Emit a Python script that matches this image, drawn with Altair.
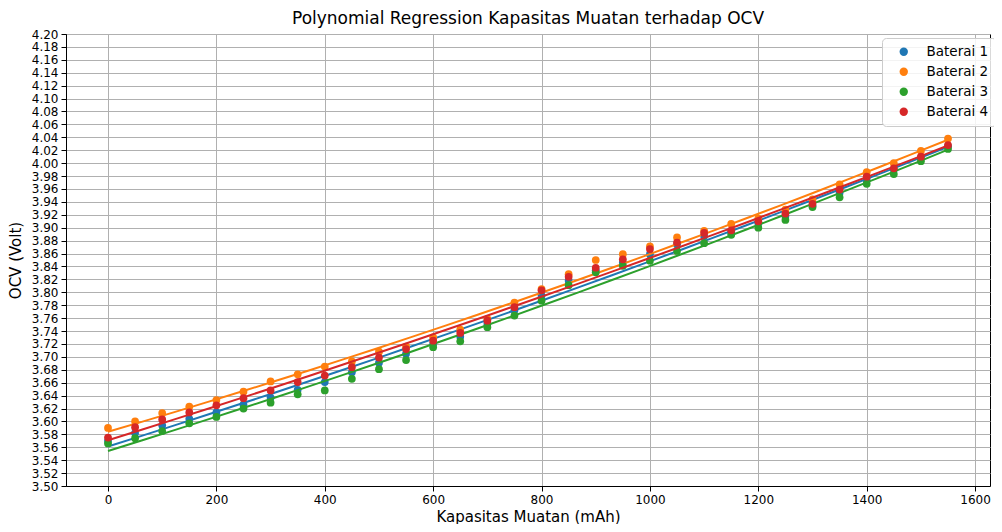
import altair as alt
import pandas as pd

kapasitas = [0, 50, 100, 150, 200, 250, 300, 350, 400, 450, 500, 550, 600, 650, 700, 750,
             800, 850, 900, 950, 1000, 1050, 1100, 1150, 1200, 1250, 1300, 1350, 1400, 1450, 1500, 1550]

baterai_1 = [3.570, 3.582, 3.594, 3.604, 3.614, 3.626, 3.637, 3.649, 3.661, 3.676, 3.691, 3.705,
             3.720, 3.731, 3.751, 3.772, 3.795, 3.818, 3.834, 3.846, 3.859, 3.874, 3.887, 3.893,
             3.907, 3.918, 3.934, 3.954, 3.974, 3.990, 4.008, 4.026]
baterai_2 = [3.590, 3.600, 3.613, 3.623, 3.633, 3.646, 3.662, 3.673, 3.685, 3.693, 3.708, 3.716,
             3.730, 3.742, 3.759, 3.784, 3.805, 3.828, 3.850, 3.859, 3.871, 3.885, 3.895, 3.906,
             3.914, 3.928, 3.944, 3.967, 3.986, 4.000, 4.019, 4.038]
baterai_3 = [3.566, 3.574, 3.585, 3.597, 3.607, 3.620, 3.629, 3.642, 3.648, 3.666, 3.681, 3.695,
             3.715, 3.724, 3.746, 3.764, 3.787, 3.811, 3.831, 3.841, 3.849, 3.864, 3.876, 3.889,
             3.900, 3.912, 3.932, 3.947, 3.968, 3.983, 4.003, 4.022]
baterai_4 = [3.575, 3.591, 3.603, 3.614, 3.625, 3.636, 3.648, 3.661, 3.671, 3.684, 3.699, 3.712,
             3.725, 3.737, 3.756, 3.777, 3.803, 3.824, 3.838, 3.851, 3.867, 3.877, 3.892, 3.896,
             3.910, 3.922, 3.937, 3.959, 3.979, 3.992, 4.010, 4.028]

names = ["Baterai 1", "Baterai 2", "Baterai 3", "Baterai 4"]
colors = ["#1f77b4", "#ff7f0e", "#2ca02c", "#d62728"]
series = [baterai_1, baterai_2, baterai_3, baterai_4]

x_ticks = [0, 200, 400, 600, 800, 1000, 1200, 1400, 1600]
y_ticks = [round(3.50 + 0.02 * i, 2) for i in range(36)]

rows = []
for n, vals in zip(names, series):
    for xv, yv in zip(kapasitas, vals):
        rows.append({"Kapasitas": xv, "OCV": yv, "Baterai": n})
df = pd.DataFrame(rows)

FONT = "DejaVu Sans"

xscale = alt.Scale(domain=[-77.5, 1627.5], nice=False, zero=False)
yscale = alt.Scale(domain=[3.50, 4.20], nice=False, zero=False)

xenc = alt.X("Kapasitas:Q", scale=xscale,
             axis=alt.Axis(title="Kapasitas Muatan (mAh)", values=x_ticks, format="d"))
yenc = alt.Y("OCV:Q", scale=yscale,
             axis=alt.Axis(title="OCV (Volt)", values=y_ticks, format=".2f"))

base = alt.Chart(df)
layers = []
for n, c in zip(names, colors):
    pts = base.transform_filter(alt.datum.Baterai == n).mark_circle(size=60, opacity=1).encode(
        x=xenc, y=yenc,
        color=alt.Color("Baterai:N", scale=alt.Scale(domain=names, range=colors),
                        legend=alt.Legend(title=None, orient="none", legendX=816, legendY=4,
                                          symbolType="circle", symbolSize=70,
                                          labelFontSize=13.5, labelFont=FONT, labelColor="black",
                                          rowPadding=5, padding=7, symbolOffset=8, labelOffset=16,
                                          fillColor="rgba(255,255,255,0.85)", strokeColor="#cccccc",
                                          cornerRadius=4))
    )
    line = base.transform_filter(alt.datum.Baterai == n).transform_regression(
        "Kapasitas", "OCV", method="poly", order=2
    ).mark_line(strokeWidth=2, color=c).encode(x=xenc, y=yenc)
    layers += [pts, line]

chart = alt.layer(*layers).properties(
    width=924, height=452,
    title=alt.TitleParams("Polynomial Regression Kapasitas Muatan terhadap OCV",
                          font=FONT, fontSize=17, fontWeight="normal", color="black",
                          anchor="middle", offset=0),
    autosize=alt.AutoSizeParams(type="none"),
    padding={"left": 58, "top": 26, "right": 4, "bottom": 38},
).configure_view(stroke="black", strokeWidth=1).configure_axis(
    labelFont=FONT, labelFontSize=12, labelColor="black", labelOverlap=False,
    titleFont=FONT, titleFontSize=15, titleFontWeight="normal", titleColor="black",
    tickColor="black", tickSize=5, domainColor="black",
    gridColor="#b0b0b0", gridWidth=1, labelPadding=3,
).configure_axisX(titlePadding=4).configure_axisY(titlePadding=8)

chart.save("out.html", embed_options={"renderer": "svg", "actions": False})
